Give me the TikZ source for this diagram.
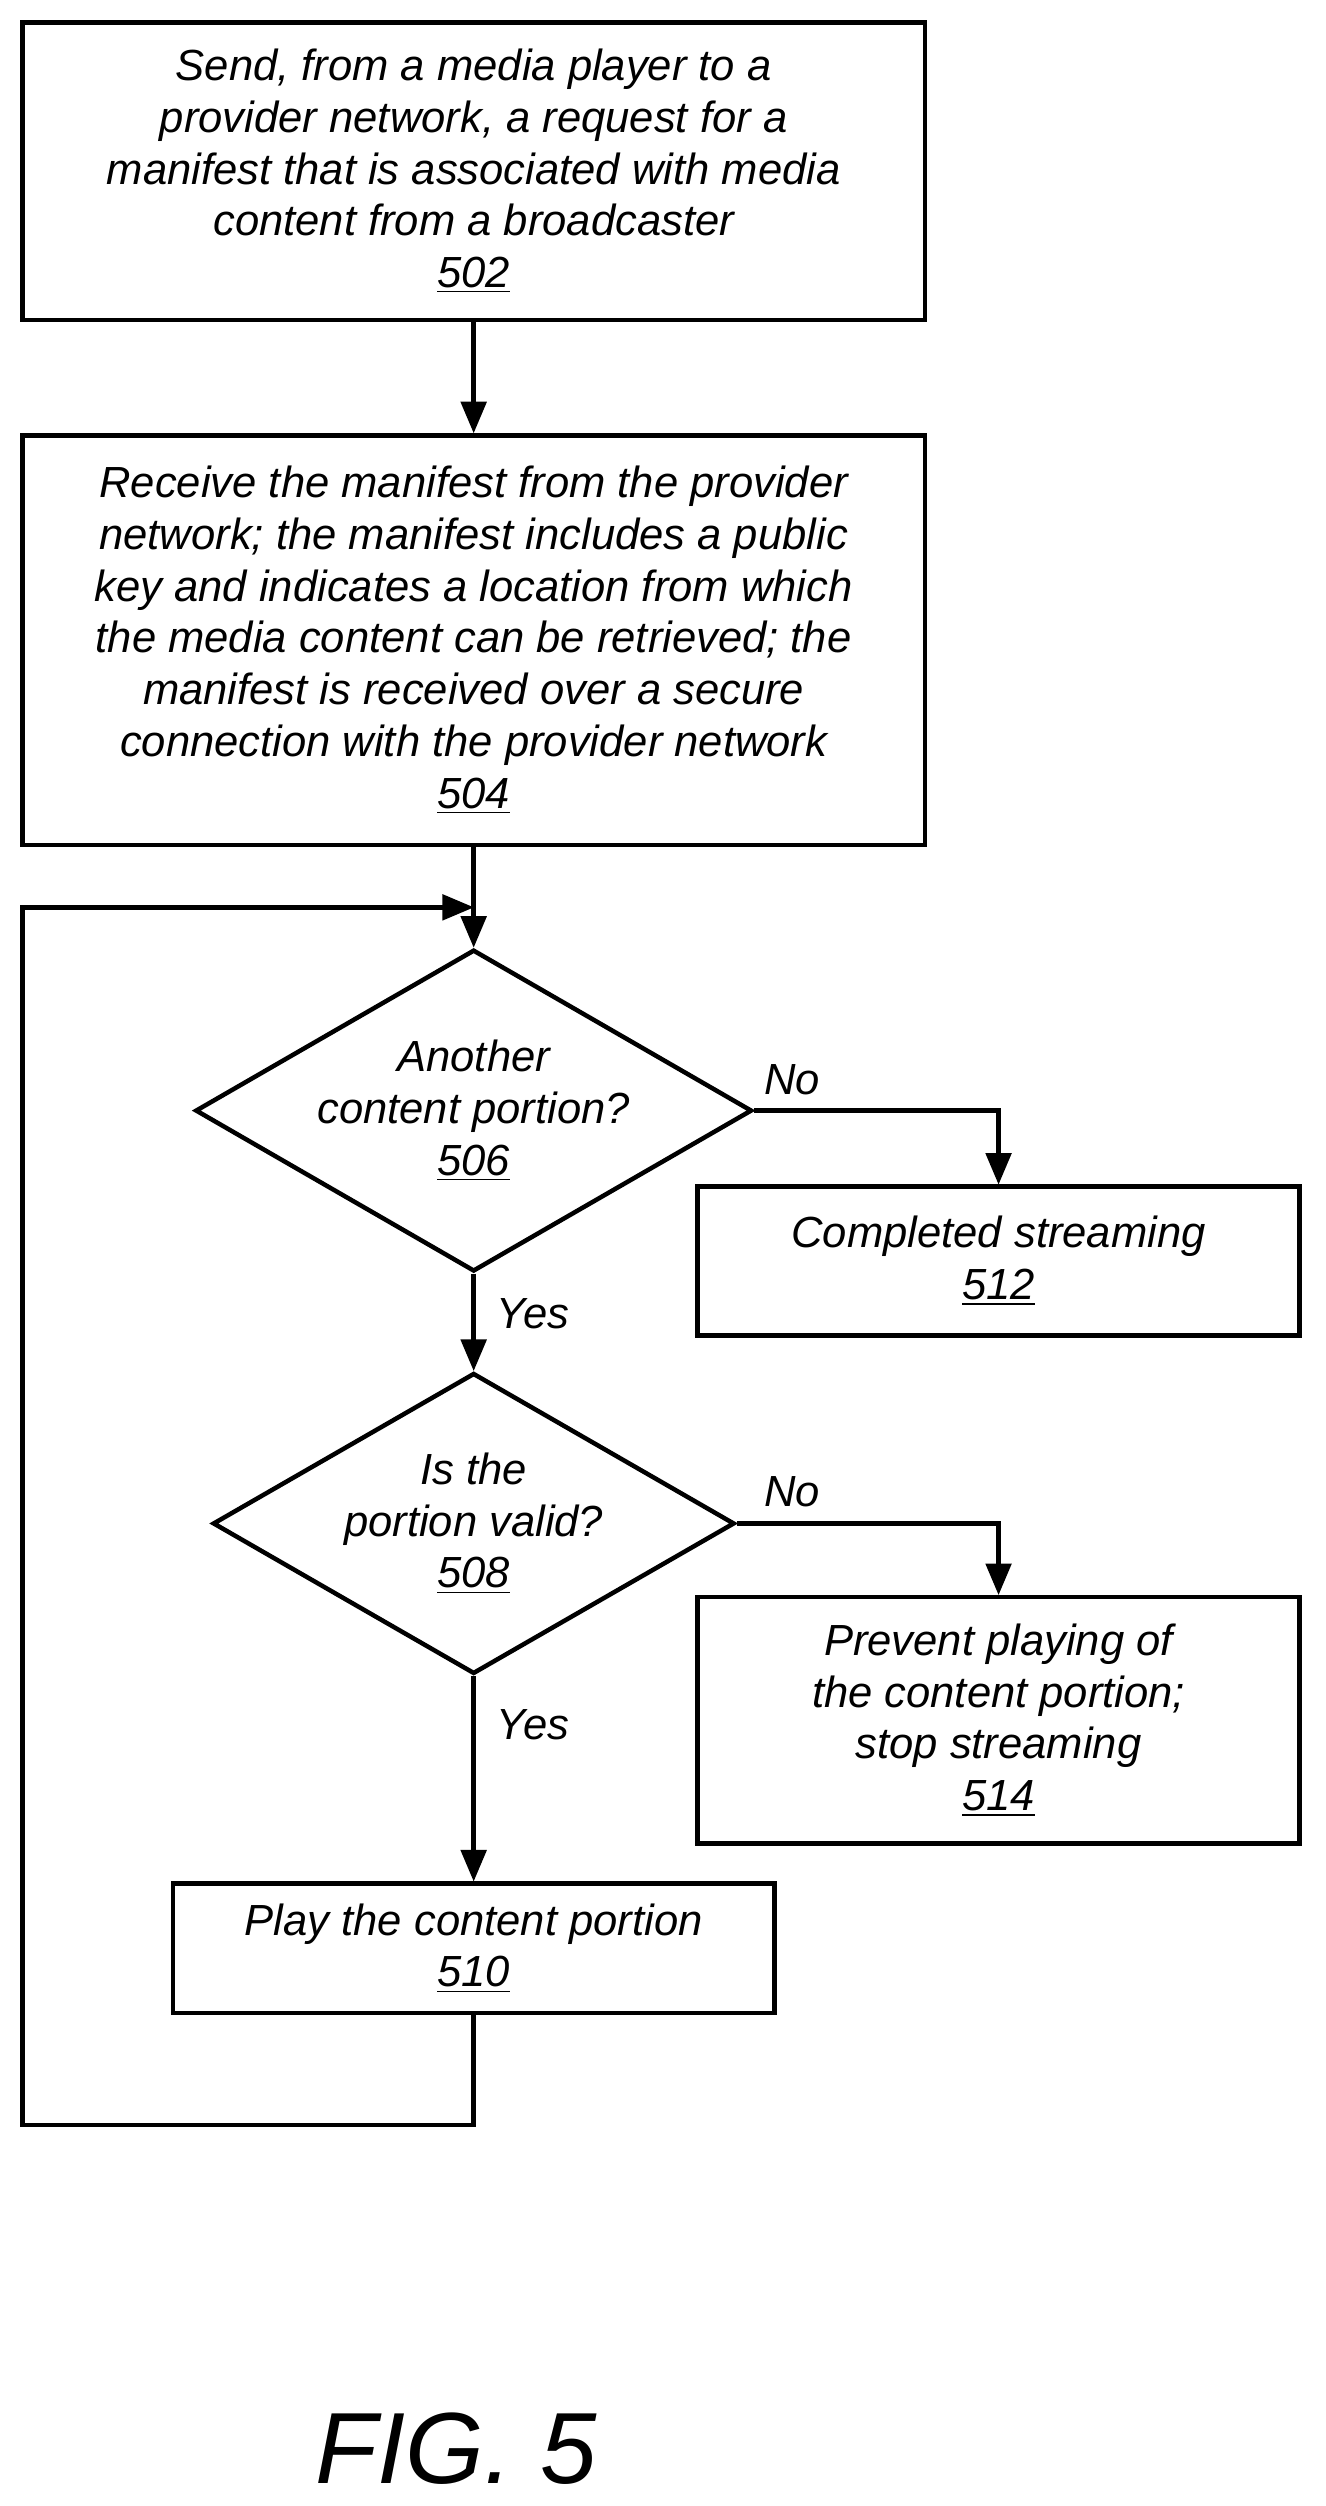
\documentclass[tikz,border=0pt]{standalone}
\usepackage{fontspec}
\setmainfont{Liberation Sans}
\usetikzlibrary{shapes,arrows}
\begin{document}
\begin{tikzpicture}[x=0.02cm,y=-0.02cm]
		\tikzstyle {step box} = [draw, line width=1.6pt, align=center, inner sep=0pt,
			font=\itshape\fontsize{15.5}{18.4}\selectfont]
		\tikzstyle {test box} = [step box, diamond, aspect=1.73, minimum width=326*0.02cm, minimum height=188*0.02cm]
		\tikzstyle {flow line} = [line width=1.6pt, -triangle 45]
		\tikzstyle {flow label} = [font=\itshape\fontsize{15.5}{18.4}\selectfont]

		\useasboundingbox (0,0) rectangle (828,1566);

		\node[step box, minimum width=564*0.02cm, minimum height=186*0.02cm] (send) at (296,107)
			{Send, from a media player to a\\provider network, a request for a\\manifest that is associated with media\\content from a broadcaster\\\underline{502}};
		\node[step box, minimum width=564*0.02cm, minimum height=256*0.02cm] (receive) at (296,400)
			{Receive the manifest from the provider\\network; the manifest includes a public\\key and indicates a location from which\\the media content can be retrieved; the\\manifest is received over a secure\\connection with the provider network\\\underline{504}};
		\node[test box] (another) at (296,694) {Another\\content portion?\\\underline{506}};
		\node[step box, minimum width=376*0.02cm, minimum height=93*0.02cm] (done) at (624,788)
			{Completed streaming\\\underline{512}};
		\node[test box] (valid) at (296,952) {Is the\\portion valid?\\\underline{508}};
		\node[step box, minimum width=376*0.02cm, minimum height=154*0.02cm] (stop) at (624,1075)
			{Prevent playing of\\the content portion;\\stop streaming\\\underline{514}};
		\node[step box, minimum width=376*0.02cm, minimum height=81*0.02cm] (play) at (296,1217.5)
			{Play the content portion\\\underline{510}};
		\coordinate (loop) at (296,567);

		\draw[flow line] (send) -- (receive);
		\draw[flow line] (receive) -- (another);
		\draw[flow line] (another.east) -| (done.north);
		\draw[flow line] (another) -- (valid);
		\draw[flow line] (valid.east) -| (stop.north);
		\draw[flow line] (valid) -- (play);
		\draw[flow line] (play.south) -- (296,1328) -- (14,1328) -- (14,567) -- (loop);

		\node[flow label] (no1) at (495,675) {No};
		\node[flow label] (yes1) at (333,821) {Yes};
		\node[flow label] (no2) at (495,932) {No};
		\node[flow label] (yes2) at (333,1078) {Yes};

		\node[font=\itshape\fontsize{36}{40}\selectfont] (fig) at (285,1530) {FIG. 5};
\end{tikzpicture}
\end{document}
